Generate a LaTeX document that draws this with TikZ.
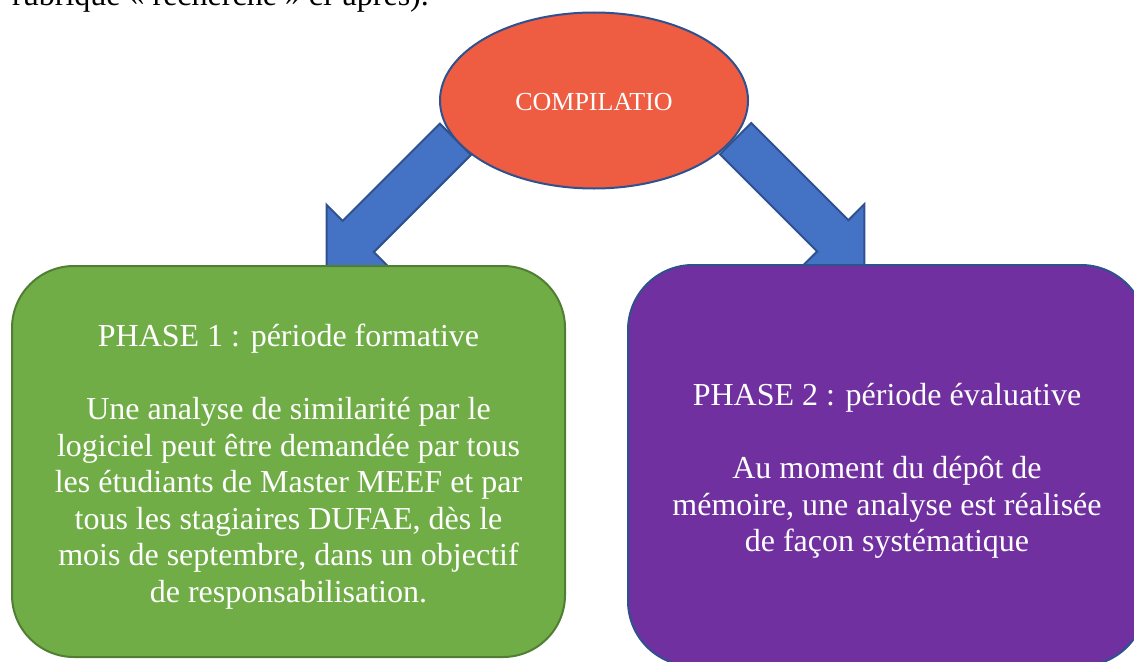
\documentclass[tikz,border=0pt]{standalone}
\usepackage{fontspec}
\setmainfont{Liberation Serif}
\usetikzlibrary{shapes.geometric}
\definecolor{compred}{HTML}{EE5C42}
\definecolor{officeblue}{HTML}{4472C4}
\definecolor{darkblue}{HTML}{2F528F}
\definecolor{officegreen}{HTML}{70AD47}
\definecolor{darkgreen}{HTML}{507E32}
\definecolor{officepurple}{HTML}{7030A0}
\begin{document}
\begin{tikzpicture}[x=1pt,y=-1pt,
  blockarrow/.style={fill=officeblue,draw=darkblue,line width=2pt,line join=miter},
  phasebox/.style={rectangle,line width=2pt},
  phasetext/.style={text=white,align=center,font=\fontsize{32}{36.6}\selectfont,inner sep=0pt},
  compnode/.style={ellipse,fill=compred,draw=darkblue,line width=2pt,inner sep=0pt}]
\useasboundingbox (0,0) rectangle (1134,661);
\clip (0,0) rectangle (1134,661);
% intro line (cut off at the top, as in the reference)
\node[anchor=base west,inner sep=0pt,font=\fontsize{32}{36.6}\selectfont] (intro) at (12,6) {rubrique « recherche » ci-après).};
% block arrows
\coordinate (tipL) at (326.7,268);
\coordinate (tipR) at (864.3,267.3);
\draw[blockarrow] (tipL) -- ++(0,-63.1) -- ++(15.9,16) -- ++(97.2,-97.2) -- ++(31.2,31.2)
  -- ++(-97.2,97.2) -- ++(16,15.9) -- cycle;
\draw[blockarrow] (tipR) -- ++(0,-63.1) -- ++(-15.9,16) -- ++(-97.2,-97.2) -- ++(-31.2,31.2)
  -- ++(97.2,97.2) -- ++(-16,15.9) -- cycle;
% ellipse
\node[compnode,minimum width=308pt,minimum height=176pt] (comp) at (594,100.5) {};
\node[text=white,font=\fontsize{26}{30}\selectfont,inner sep=0pt] (comptext) at (594,102.5) {COMPILATIO};
% phase boxes
\node[phasebox,fill=officegreen,draw=darkgreen,rounded corners=62pt,
  minimum width=553pt,minimum height=391pt] (p1) at (288.5,461.5) {};
\node[phasetext] (t1) at (288.5,466.5)
  {PHASE 1 : période formative\\[36.6pt]
   Une analyse de similarité par le\\
   logiciel peut être demandée par tous\\
   les étudiants de Master MEEF et par\\
   tous les stagiaires DUFAE, dès le\\
   mois de septembre, dans un objectif\\
   de responsabilisation.};
\node[phasebox,fill=officepurple,draw=darkblue,rounded corners=65pt,
  minimum width=518pt,minimum height=401pt] (p2) at (887,465.5) {};
\node[phasetext] (t2) at (887,471)
  {PHASE 2 : période évaluative\\[36.6pt]
   Au moment du dépôt de\\
   mémoire, une analyse est réalisée\\
   de façon systématique};
\end{tikzpicture}
\end{document}
